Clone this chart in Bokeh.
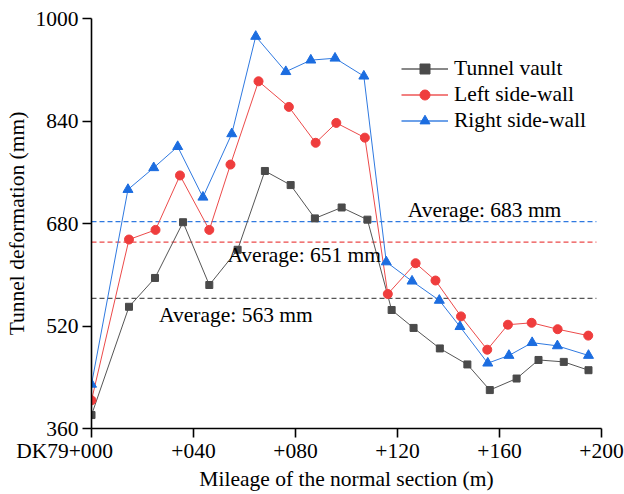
from bokeh.plotting import figure
from bokeh.models import Range1d, FixedTicker, Label, Legend, LegendItem
from bokeh.embed import file_html
from bokeh.resources import INLINE

# Mileage along the normal section (m) and deformation of each monitored part (mm)
x_vault = [0, 14.7, 24.9, 35.9, 46.2, 57.3, 68.0, 78.1, 87.6, 98.1,
           108.2, 117.7, 126.3, 136.6, 147.4, 156.2, 166.7, 175.3, 185.2, 194.9]
vault = [381, 550, 595, 682, 584, 639, 762, 740, 688, 705,
         686, 545, 517, 485, 460, 420, 438, 467, 464, 451]

x_left = [0, 14.7, 25.1, 34.7, 46.2, 54.5, 65.5, 77.4, 87.9, 96.0,
          107.2, 116.2, 127.1, 134.9, 144.9, 155.2, 163.3, 172.6, 182.8, 194.8]
left_wall = [404, 655, 670, 755, 670, 772, 902, 862, 806, 837,
             814, 570, 618, 591, 535, 483, 522, 525, 515, 505]

x_right = [0, 14.3, 24.4, 33.8, 43.7, 55.0, 64.4, 76.2, 86.0, 95.5,
           106.8, 115.6, 125.7, 136.4, 144.5, 155.4, 163.7, 172.8, 182.7, 194.9]
right_wall = [429, 733, 767, 800, 721, 820, 972, 917, 935, 938,
              910, 620, 590, 560, 519, 462, 474, 494, 489, 474]

averages = [563, 651, 683]
average_text_pos = [[26.5, 537.5], [53.3, 631.5], [124.0, 701.5]]

x_ticks = [0, 40, 80, 120, 160, 200]
# the first label carries the section prefix; trailing no-break spaces keep
# "+000" centred under its tick while "DK79" extends to the left
x_tick_labels = ["DK79+000" + "\u00a0" * 10, "+040", "+080", "+120", "+160", "+200"]
y_ticks = [360, 520, 680, 840, 1000]

series_names = ["Tunnel vault", "Left side-wall", "Right side-wall"]

FONT = "Liberation Serif"
FS = "21.5px"

C_BLACK, C_BLACK_LINE = "#4a4a4a", "#555555"
C_RED, C_RED_LINE = "#ef3d3d", "#ec4a4a"
C_BLUE, C_BLUE_LINE = "#1c6de0", "#2f79e0"

p = figure(width=624, height=494, output_backend="svg", toolbar_location=None,
           x_range=Range1d(0, 200), y_range=Range1d(360, 1000),
           min_border_left=91, min_border_right=23, min_border_top=18,
           min_border_bottom=66)
p.outline_line_color = None
p.grid.visible = False
p.background_fill_color = "white"
p.border_fill_color = "white"

for ax in (p.xaxis[0], p.yaxis[0]):
    ax.axis_line_width = 1.6
    ax.axis_line_color = "black"
    ax.major_tick_line_width = 1.6
    ax.major_tick_line_color = "black"
    ax.major_tick_out = 9
    ax.major_tick_in = 0
    ax.minor_tick_line_color = None
    ax.major_label_text_font = FONT
    ax.major_label_text_font_size = FS
    ax.major_label_text_color = "black"
    ax.axis_label_text_font = FONT
    ax.axis_label_text_font_size = FS
    ax.axis_label_text_font_style = "normal"
    ax.axis_label_text_color = "black"

p.xaxis.ticker = FixedTicker(ticks=x_ticks)
p.xaxis.major_label_overrides = {t: s for t, s in zip(x_ticks, x_tick_labels)}
p.xaxis.major_label_standoff = 1
p.xaxis.axis_label = "Mileage of the normal section (m)"
p.xaxis.axis_label_standoff = 1

p.yaxis.ticker = FixedTicker(ticks=y_ticks)
p.yaxis.major_label_standoff = 4
p.yaxis.axis_label = "Tunnel deformation (mm)"
p.yaxis.axis_label_standoff = 4

# Average levels
avg_colors = [C_BLACK_LINE, C_RED_LINE, C_BLUE_LINE]
for val, col in zip(averages, avg_colors):
    p.line([0, 198], [val, val], line_color=col, line_width=1.3, line_dash="5 3")

for val, (ax_, ay_) in zip(averages, average_text_pos):
    p.add_layout(Label(x=ax_, y=ay_, text=f"Average: {val} mm", text_font=FONT,
                       text_font_size=FS, text_color="black",
                       text_baseline="alphabetic"))

# Data series
p.line(x_vault, vault, line_color=C_BLACK_LINE, line_width=1)
p.scatter(x_vault, vault, marker="square", size=7, fill_color=C_BLACK,
          line_color=C_BLACK)
p.line(x_left, left_wall, line_color=C_RED_LINE, line_width=1)
p.scatter(x_left, left_wall, marker="circle", size=9, fill_color=C_RED,
          line_color=C_RED)
p.line(x_right, right_wall, line_color=C_BLUE_LINE, line_width=1)
p.scatter(x_right, right_wall, marker="triangle", size=10, fill_color=C_BLUE,
          line_color=C_BLUE)

# Legend entries with lighter, wider sample lines
nan = float("nan")
leg_items = []
for name, lc, mc, mk, ms in zip(series_names,
                                [C_BLACK_LINE, C_RED_LINE, C_BLUE_LINE],
                                [C_BLACK, C_RED, C_BLUE],
                                ["square", "circle", "triangle"], [7, 8, 9]):
    r1 = p.line([nan], [nan], line_color=lc, line_width=2, line_alpha=0.7)
    r2 = p.scatter([nan], [nan], marker=mk, size=ms, fill_color=mc, line_color=mc)
    leg_items.append(LegendItem(label=name, renderers=[r1, r2]))

legend = Legend(items=leg_items, location=(310, 295), orientation="vertical",
                glyph_width=47, glyph_height=25, label_height=25,
                label_standoff=6, spacing=1, padding=0, margin=0,
                border_line_color=None, background_fill_alpha=0,
                label_text_font=FONT, label_text_font_size=FS,
                label_text_color="black")
p.add_layout(legend, "center")

open("out.html", "w").write(file_html(p, INLINE))
